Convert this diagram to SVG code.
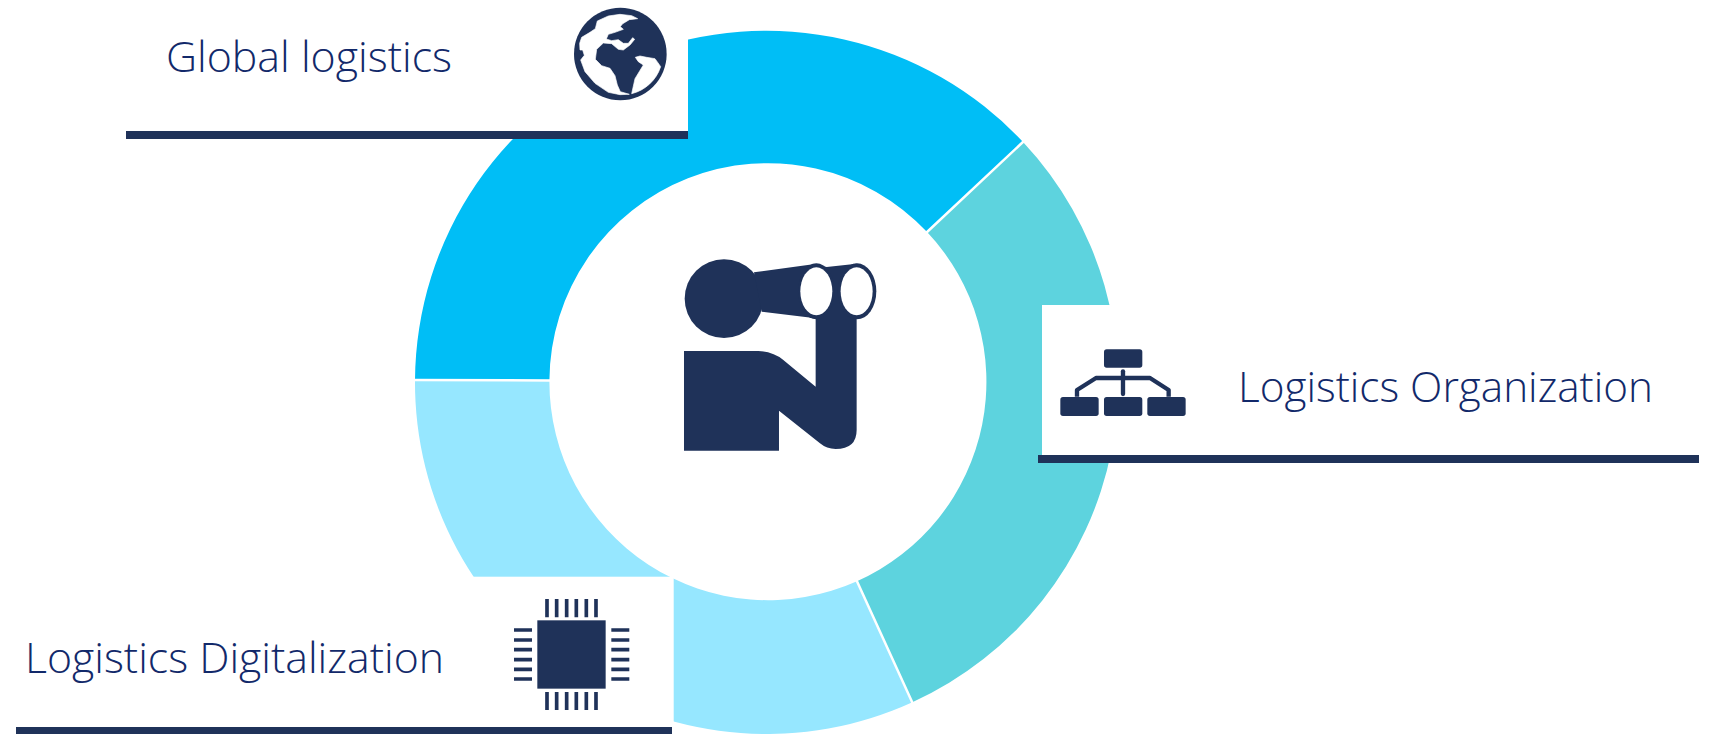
<svg xmlns="http://www.w3.org/2000/svg" width="1712" height="734" viewBox="0 0 1712 734">
<style>
.d{fill:#1f3259}
.w{fill:#fff}
.sep{stroke:#fff;stroke-width:2.5;fill:none}
text{font-family:"Open Sans","Liberation Sans",sans-serif;font-weight:300;font-size:42.5px;fill:#12296a}
</style>
<rect class="w" width="1712" height="734"/>
<g id="ring">
<path fill="#00bef6" d="M415 380A351.5 351.5 0 0 1 1023 142L927.1 232A218.5 218.5 0 0 0 549.4 380.5Z"/>
<path fill="#5dd3de" d="M1023 142A351.5 351.5 0 0 1 912.4 702.3L857 581.2A218.5 218.5 0 0 0 927.1 232Z"/>
<path fill="#96e7ff" d="M912.4 702.3A351.5 351.5 0 0 1 415 380L549.4 380.5A218.5 218.5 0 0 0 857 581.2Z"/>
<path class="sep" d="M1024 141L926 233M913 704L856.4 580M413 380L551 380.5"/>
</g>
<g id="global-logistics">
<rect class="w" x="100" y="0" width="588" height="131"/>
<rect class="d" x="126" y="131" width="562" height="8"/>
<text x="166" y="72" textLength="286" lengthAdjust="spacingAndGlyphs">Global logistics</text>
<g transform="translate(540 0) scale(.3333)">
<circle class="d" cx="241" cy="162" r="139"/>
<path class="w" stroke="#fff" stroke-width="2" stroke-linejoin="round" d="M172 63L205 48L240 43L275 47L293 56L268 59L247 72L241 80L250 88L225 97L205 103L199 117L215 122L235 119L250 130L265 130L278 113L284 118L270 135L250 150L235 148L215 131L190 129L170 148L166 178L185 197L210 205L225 227L232 255L241 275L268 283L240 284L205 277L165 250L135 215L122 180L133 166L128 150L120 150L119 130L125 112L150 97L166 86Z"/>
<path class="w" stroke="#fff" stroke-width="2" stroke-linejoin="round" d="M275 281L285 236L310 195L295 185L286 172L300 168L320 172L345 176L358 194L362 200A122 122 0 0 1 275 281Z"/>
</g>
</g>
<g id="logistics-organization">
<rect class="w" x="1042" y="305" width="670" height="150"/>
<rect class="d" x="1038" y="455" width="661" height="8"/>
<text x="1238" y="402" textLength="415" lengthAdjust="spacingAndGlyphs">Logistics Organization</text>
<g transform="translate(1030 330) scale(.3333)">
<rect class="d" x="222" y="58" width="115" height="55" rx="8"/>
<rect class="d" x="91" y="201" width="115" height="57" rx="8"/>
<rect class="d" x="222" y="201" width="115" height="57" rx="8"/>
<rect class="d" x="352" y="201" width="115" height="57" rx="8"/>
<path fill="none" stroke="#1f3259" stroke-width="13" stroke-linejoin="round" d="M141 200V180L198 144H360L416 180V200"/>
<path fill="none" stroke="#1f3259" stroke-width="13" stroke-linecap="round" d="M279 124V192"/>
</g>
</g>
<g id="logistics-digitalization">
<rect class="w" x="0" y="576.7" width="673.7" height="158"/>
<rect class="d" x="16" y="727" width="656" height="7"/>
<text x="25" y="673" textLength="419" lengthAdjust="spacingAndGlyphs">Logistics Digitalization</text>
<g transform="translate(490 580) scale(.3333)">
<rect class="d" x="142" y="121" width="205" height="205"/>
<g stroke="#1f3259" stroke-width="11">
<path d="M171 57V112M200 57V112M230 57V112M259 57V112M289 57V112M318 57V112"/>
<path d="M171 336V390M200 336V390M230 336V390M259 336V390M289 336V390M318 336V390"/>
<path d="M72 150H126M72 180H126M72 209H126M72 239H126M72 268H126M72 297H126"/>
<path d="M364 150H418M364 180H418M364 209H418M364 239H418M364 268H418M364 297H418"/>
</g>
</g>
</g>
<g id="center-binoculars" transform="translate(660 240) scale(.3333)">
<circle class="d" cx="192" cy="176" r="118"/>
<path class="d" d="M282 97L465 72L500 81L590 71V570Q590 627 527 627Q500 627 480 610L357 512V632H72V333H295Q340 335 370 360L467 440V235L305 215Z"/>
<ellipse class="d" cx="469" cy="154" rx="55" ry="84"/>
<ellipse class="d" cx="591" cy="154" rx="58" ry="84"/>
<ellipse class="w" cx="469" cy="154" rx="48" ry="72"/>
<ellipse class="w" cx="590" cy="154" rx="48" ry="72"/>
</g>
</svg>
